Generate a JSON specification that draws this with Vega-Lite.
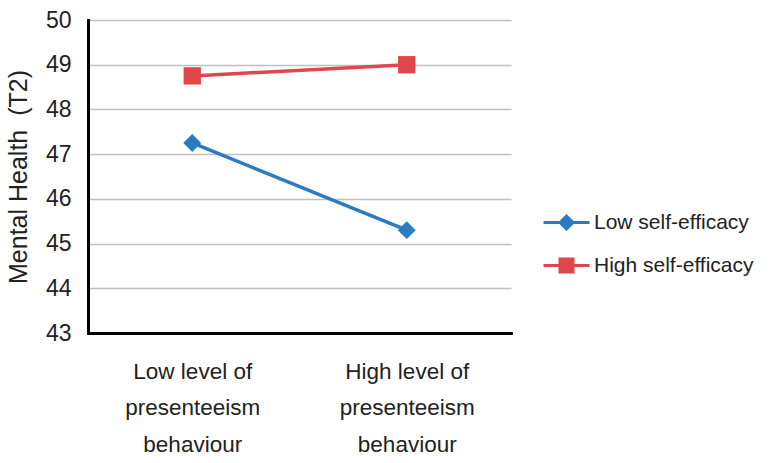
{
  "$schema": "https://vega.github.io/schema/vega-lite/v6.json",
  "width": 423,
  "height": 313,
  "autosize": "none",
  "padding": {"left": 88, "top": 20, "right": 258, "bottom": 130},
  "background": "white",
  "config": {"view": {"stroke": null}, "font": "Liberation Sans"},
  "data": {"values": [
    {"level": "Low level of\npresenteeism\nbehaviour", "group": "Low self-efficacy", "value": 47.25},
    {"level": "High level of\npresenteeism\nbehaviour", "group": "Low self-efficacy", "value": 45.3},
    {"level": "Low level of\npresenteeism\nbehaviour", "group": "High self-efficacy", "value": 48.75},
    {"level": "High level of\npresenteeism\nbehaviour", "group": "High self-efficacy", "value": 49.0}
  ]},
  "encoding": {
    "x": {
      "field": "level", "type": "nominal",
      "sort": ["Low level of\npresenteeism\nbehaviour", "High level of\npresenteeism\nbehaviour"],
      "scale": {"type": "point", "padding": 0.486},
      "axis": {
        "title": null, "labelAngle": 0, "ticks": false, "grid": false,
        "domainColor": "#000000", "domainWidth": 3, "domainCap": "square",
        "labelExpr": "split(datum.label, '\\n')",
        "labelFontSize": 22.5, "labelColor": "#222222", "labelLineHeight": 36.5,
        "labelPadding": 27
      }
    },
    "y": {
      "field": "value", "type": "quantitative",
      "scale": {"domain": [43, 50], "zero": false, "nice": false},
      "axis": {
        "title": "Mental Health\u00a0\u00a0(T2)", "titleFontSize": 25, "titleFontWeight": "normal",
        "titleColor": "#222222", "titlePadding": 14,
        "values": [43, 44, 45, 46, 47, 48, 49, 50],
        "ticks": false, "domainColor": "#000000", "domainWidth": 3, "domainCap": "square",
        "gridColor": "#c0c0c0", "gridWidth": 1.5,
        "labelFontSize": 23, "labelColor": "#222222", "labelPadding": 17
      }
    },
    "color": {
      "field": "group", "type": "nominal",
      "scale": {"domain": ["Low self-efficacy", "High self-efficacy"], "range": ["#2b7bc2", "#e0474c"]},
      "legend": {
        "title": null, "orient": "none", "legendX": 468, "legendY": 192,
        "labelFontSize": 21, "labelColor": "#222222",
        "symbolSize": 100, "symbolStrokeWidth": 3, "labelOffset": 17, "rowPadding": 18,
        "encode": {
          "symbols": {
            "update": {
              "shape": {"signal": "datum.value === 'Low self-efficacy' ? 'M-4.6,0H4.6M0,-1.3L1.3,0L0,1.3L-1.3,0Z' : 'M-4.6,0H4.6M-1.3,-1.3H1.3V1.3H-1.3Z'"},
              "fill": {"scale": "color", "field": "value"},
              "stroke": {"scale": "color", "field": "value"},
              "opacity": {"value": 1}
            }
          }
        }
      }
    }
  },
  "layer": [
    {"mark": {"type": "line", "strokeWidth": 3.5}},
    {
      "transform": [{"filter": "datum.group === 'Low self-efficacy'"}],
      "mark": {"type": "point", "filled": true, "opacity": 1, "shape": "diamond", "size": 320}
    },
    {
      "transform": [{"filter": "datum.group === 'High self-efficacy'"}],
      "mark": {"type": "point", "filled": true, "opacity": 1, "shape": "square", "size": 300}
    }
  ]
}
